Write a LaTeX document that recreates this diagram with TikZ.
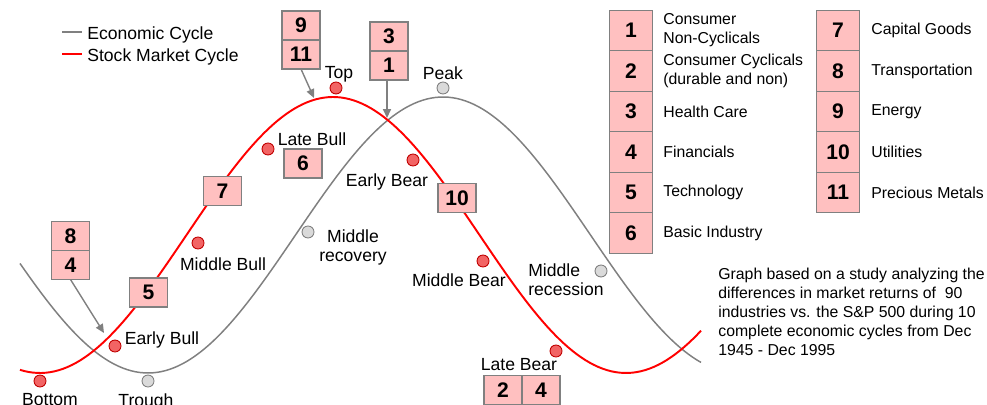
\documentclass[tikz,border=0pt]{standalone}
\usepackage{fontspec}
\setmainfont{Liberation Sans}
\usetikzlibrary{positioning, arrows.meta}

\definecolor{boxpink}{HTML}{FFC0C0}
\definecolor{boxline}{HTML}{808080}
\definecolor{dotred}{HTML}{F26464}
\definecolor{dotrim}{HTML}{C00000}
\definecolor{dotgray}{HTML}{DADADA}

\begin{document}
\begin{tikzpicture}[x=0.02cm, y=-0.02cm,
  lbl/.style={font=\fontsize{10}{11}\selectfont, inner sep=0pt, anchor=north, align=center},
  num/.style={draw=boxline, fill=boxpink, line width=0.8pt, outer sep=0pt, inner sep=0pt,
    minimum width=0.76cm, minimum height=0.58cm, font=\fontsize{12}{14}\selectfont\bfseries},
  key/.style={num, minimum width=0.86cm, minimum height=0.81cm},
  keytxt/.style={font=\fontsize{9}{10.8}\selectfont, inner sep=0pt, anchor=west, align=left},
  mkt/.style={circle, draw=dotrim, fill=dotred, line width=0.5pt, minimum size=0.24cm, inner sep=0pt},
  eco/.style={circle, draw=boxline, fill=dotgray, line width=0.5pt, minimum size=0.24cm, inner sep=0pt},
  ecoline/.style={draw=boxline, line width=0.85pt},
  mktline/.style={draw=red, line width=1.1pt},
  pointer/.style={draw=boxline, line width=0.8pt, -{Triangle[length=5pt, width=4.5pt]}}]

  \useasboundingbox (0,0) rectangle (987,405);

  % the two cycles (half period ~295px)
  \draw[ecoline] plot[domain=20:701, samples=160] (\x, {235+138*cos(0.61017*(\x-148))});
  \draw[mktline] plot[domain=20:701, samples=160] (\x, {235+138*cos(0.61433*(\x-40))});

  % curve legend
  \node[lbl, anchor=north west] (ecoleg) at (87,26) {Economic Cycle};
  \node[lbl, anchor=north west] (mktleg) at (87,48) {Stock Market Cycle};
  \draw[ecoline] (62,32) -- (82,32);
  \draw[mktline] (62,54) -- (82,54);

  % stages
  \node[mkt] (bottom) at (40,381) {};
  \node[mkt] (ebull) at (115,346) {};
  \node[mkt] (mbull) at (198,243) {};
  \node[mkt] (lbull) at (268,149) {};
  \node[mkt] (top) at (336,88) {};
  \node[mkt] (ebear) at (413,160) {};
  \node[mkt] (mbear) at (483,261) {};
  \node[mkt] (lbear) at (556,351) {};
  \node[eco] (trough) at (148,381) {};
  \node[eco] (mrec) at (308,232) {};
  \node[eco] (peak) at (443,88) {};
  \node[eco] (mcess) at (601,271) {};

  \node[lbl] (bottomtxt) at (50,393) {Bottom};
  \node[lbl] (ebulltxt) at (162,331) {Early Bull};
  \node[lbl] (mbulltxt) at (223,257) {Middle Bull};
  \node[lbl] (lbulltxt) at (312,132) {Late Bull};
  \node[lbl] (toptxt) at (339,66) {Top};
  \node[lbl] (ebeartxt) at (387,173) {Early Bear};
  \node[lbl] (mbeartxt) at (459,273) {Middle Bear};
  \node[lbl] (lbeartxt) at (519,358) {Late Bear};
  \node[lbl] (troughtxt) at (146,393) {Trough};
  \node[lbl] (mrectxt) at (353,229) {Middle\\recovery};
  \node[lbl] (peaktxt) at (443,66) {Peak};
  \node[lbl, anchor=north west, align=left] (mcesstxt) at (528,263) {Middle\\recession};

  % sector boxes on the curves
  \node[num] (s9) at (301,25.5) {9};
  \node[num, below=0pt of s9] (s11) {11};
  \node[num] (s3) at (389,36.5) {3};
  \node[num, below=0pt of s3] (s1) {1};
  \node[num] (s8) at (70.5,236) {8};
  \node[num, below=0pt of s8] (s4) {4};
  \node[num] (s6) at (303,163.5) {6};
  \node[num] (s7) at (222.5,191) {7};
  \node[num] (s5) at (148.5,292.5) {5};
  \node[num] (s10) at (457,198) {10};
  \node[num] (s2) at (503,390) {2};
  \node[num, right=0pt of s2] (s4b) {4};

  \coordinate (toparr) at (314,98);
  \coordinate (crossarr) at (387,118);
  \coordinate (bullarr) at (104,333);
  \draw[pointer] (s11.south) -- (toparr);
  \draw[pointer] (s1.south -| crossarr) -- (crossarr);
  \draw[pointer] (s4.south) -- (bullarr);

  % sector key
  \foreach \n/\txt [count=\i] in {1/{Consumer\\Non-Cyclicals}, 2/{Consumer Cyclicals\\(durable and non)},
      3/Health Care, 4/Financials, 5/Technology, 6/Basic Industry} {
    \node[key] (key\n) at (631, {30.5+40.5*(\i-1)}) {\n};
    \node[keytxt] (keytxt\n) at (663, {30.5+40.5*(\i-1)}) {\txt};
  }
  \foreach \n/\txt [count=\i] in {7/Capital Goods, 8/Transportation, 9/Energy,
      10/Utilities, 11/Precious Metals} {
    \node[key] (key\n) at (838, {30.5+40.5*(\i-1)}) {\n};
    \node[keytxt] (keytxt\n) at (871, {30.5+40.5*(\i-1)}) {\txt};
  }

  \node[keytxt, anchor=north west] (note) at (718,268)
    {Graph based on a study analyzing the\\differences in market returns of~ 90\\industries vs. the S\&P 500 during 10\\complete economic cycles from Dec\\1945 - Dec 1995};
\end{tikzpicture}
\end{document}
